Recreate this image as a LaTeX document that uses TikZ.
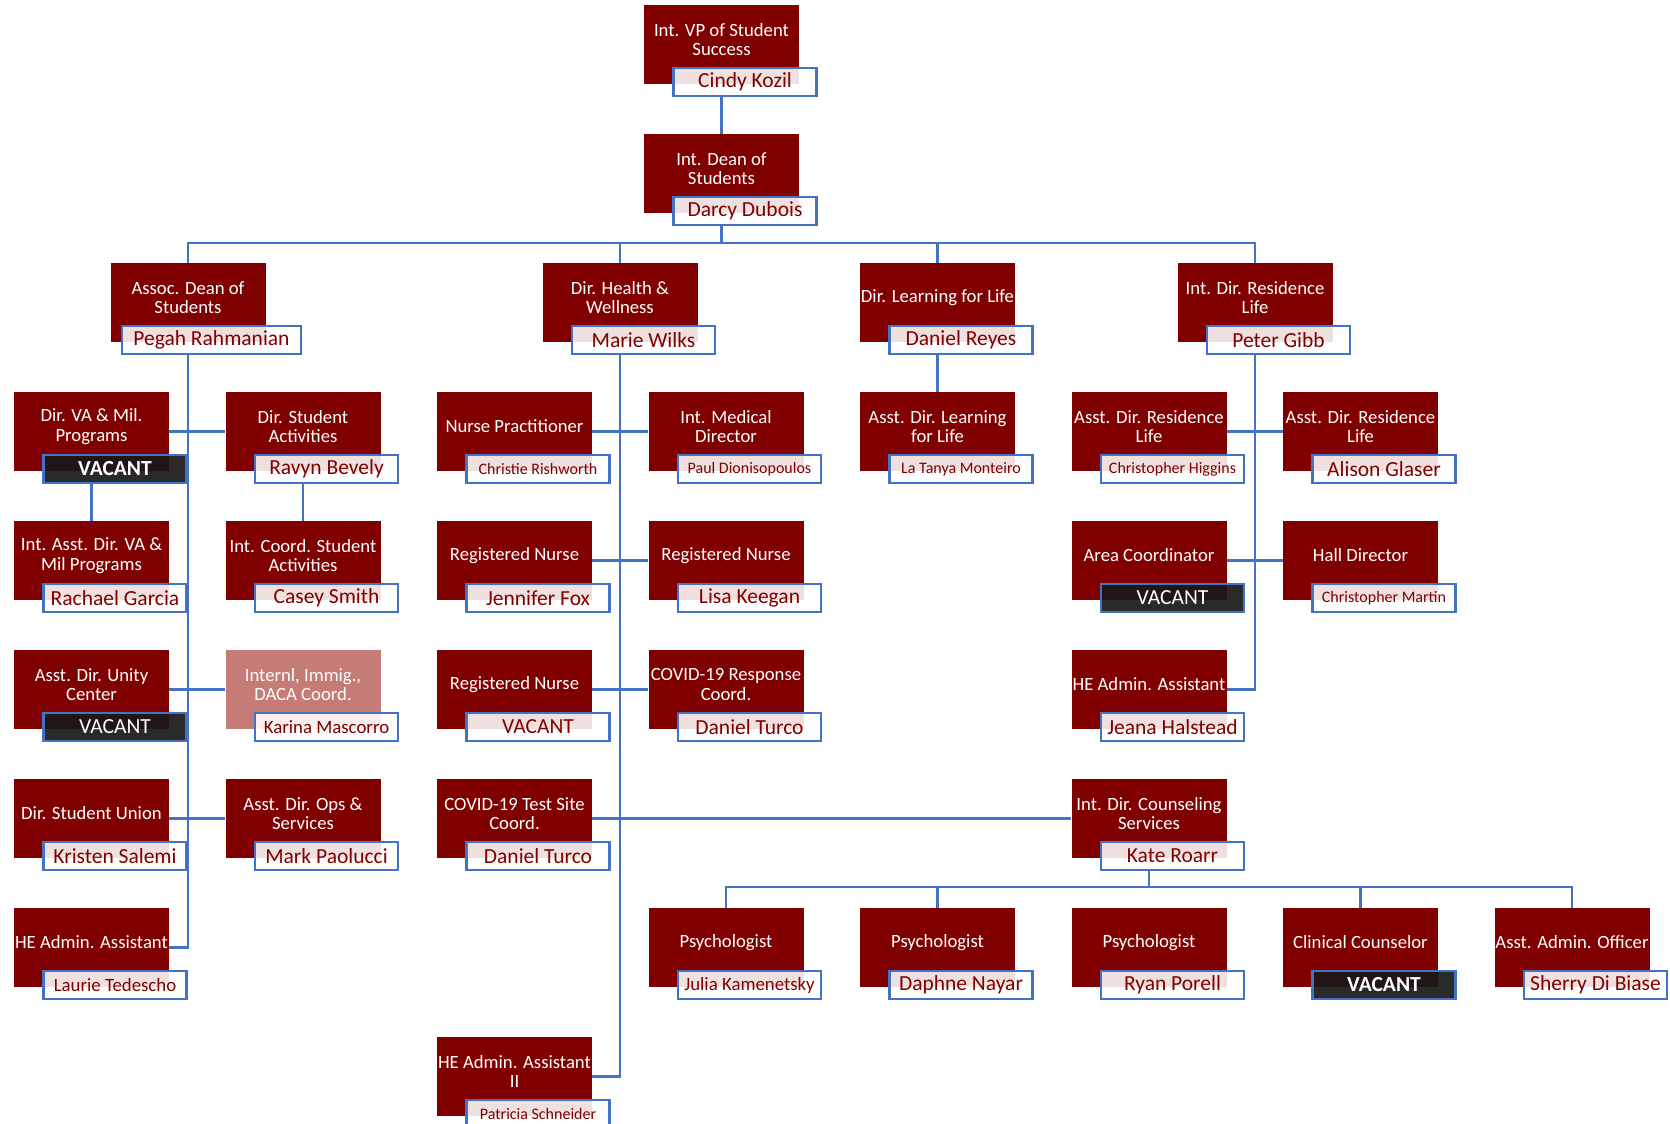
\documentclass[tikz,border=0pt]{standalone}
\usepackage{fontspec}
\setmainfont{Carlito}

\definecolor{bordeaux}{RGB}{128,0,0}
\definecolor{rosepale}{RGB}{197,123,118}
\definecolor{bleu}{RGB}{68,114,196}
\definecolor{noir}{RGB}{24,24,24}

\tikzset{
  boite/.style={fill=bordeaux, minimum width=155pt, minimum height=79pt, inner sep=0pt},
  titre/.style={text=white, align=center, font=\fontsize{18.7}{19.5}\selectfont},
  nom/.style={draw=bleu, line width=2.5pt, fill=white, fill opacity=.88, text opacity=1,
    text=bordeaux, minimum width=143pt, minimum height=28pt, inner xsep=3pt, inner ysep=0pt,
    font=\fontsize{21.5}{21.5}\selectfont},
  nommoyen/.style={nom, font=\fontsize{18.8}{18.8}\selectfont},
  nompetit/.style={nom, font=\fontsize{16}{16}\selectfont},
  vacant/.style={nom, fill=noir, fill opacity=.92, text=white},
  vacantgras/.style={vacant, font=\fontsize{21.5}{21.5}\selectfont\bfseries},
  lien/.style={draw=bleu, line width=2.7pt},
}

% un poste : boite rouge, titre, nom
\newcommand\poste[5][nom]{%
  \node[boite] (#2) at (#3) {};
  \node[titre] at ([yshift=5pt]#2.center) {#4};
  \node[#1] (#2n) at ([xshift=23.5pt,yshift=-37.5pt]#2.center) {#5};
}

\begin{document}
\begin{tikzpicture}[x=1pt, y=-1pt]

    \useasboundingbox (0,0) rectangle (1670,1124);

    % direction
    \poste{vp}{721.5,44.5}{Int. VP of Student\\Success}{Cindy Kozil}
    \poste{doyen}{721.5,173.5}{Int. Dean of\\Students}{Darcy Dubois}

    \poste[nom,minimum width=179pt]{assoc}{188,302.5}{Assoc. Dean of\\Students}{Pegah Rahmanian}
    \poste{sante}{620,302.5}{Dir. Health \&\\Wellness}{Marie Wilks}
    \poste{apprend}{937.5,302.5}{Dir. Learning for Life}{Daniel Reyes}
    \poste{resid}{1255,302.5}{Int. Dir. Residence\\Life}{Peter Gibb}

    % vie etudiante
    \poste[vacantgras]{va}{91.5,431.5}{Dir. VA \& Mil.\\Programs}{VACANT}
    \poste{activ}{303,431.5}{Dir. Student\\Activities}{Ravyn Bevely}
    \poste{asstva}{91.5,560.5}{Int. Asst. Dir. VA \&\\Mil Programs}{Rachael Garcia}
    \poste{coordactiv}{303,560.5}{Int. Coord. Student\\Activities}{Casey Smith}
    \poste[vacant]{unite}{91.5,689.5}{Asst. Dir. Unity\\Center}{VACANT}
    \begin{scope}[boite/.append style={fill=rosepale}]
      \poste[nommoyen]{daca}{303,689.5}{Internl, Immig.,\\DACA Coord.}{Karina Mascorro}
    \end{scope}
    \poste{union}{91.5,818.5}{Dir. Student Union}{Kristen Salemi}
    \poste{ops}{303,818.5}{Asst. Dir. Ops \&\\Services}{Mark Paolucci}
    \poste[nommoyen]{adminA}{91.5,947.5}{HE Admin. Assistant}{Laurie Tedescho}

    % sante
    \poste[nompetit]{np}{514.5,431.5}{Nurse Practitioner}{Christie Rishworth}
    \poste[nompetit]{med}{726,431.5}{Int. Medical\\Director}{Paul Dionisopoulos}
    \poste{inf1}{514.5,560.5}{Registered Nurse}{Jennifer Fox}
    \poste{inf2}{726,560.5}{Registered Nurse}{Lisa Keegan}
    \poste{inf3}{514.5,689.5}{Registered Nurse}{VACANT}
    \poste{covidrep}{726,689.5}{COVID-19 Response\\Coord.}{Daniel Turco}
    \poste{covidtest}{514.5,818.5}{COVID-19 Test Site\\Coord.}{Daniel Turco}
    \poste[nompetit]{adminC}{514.5,1076.5}{HE Admin. Assistant\\II}{Patricia Schneider}

    % apprentissage
    \poste[nompetit]{asstapp}{937.5,431.5}{Asst. Dir. Learning\\for Life}{La Tanya Monteiro}

    % residence
    \poste[nompetit]{higgins}{1149,431.5}{Asst. Dir. Residence\\Life}{Christopher Higgins}
    \poste{glaser}{1360.5,431.5}{Asst. Dir. Residence\\Life}{Alison Glaser}
    \poste[vacant]{area}{1149,560.5}{Area Coordinator}{VACANT}
    \poste[nompetit]{hall}{1360.5,560.5}{Hall Director}{Christopher Martin}
    \poste{adminF}{1149,689.5}{HE Admin. Assistant}{Jeana Halstead}

    % conseil
    \poste{conseil}{1149,818.5}{Int. Dir. Counseling\\Services}{Kate Roarr}
    \poste[nommoyen]{psy1}{726,947.5}{Psychologist}{Julia Kamenetsky}
    \poste{psy2}{937.5,947.5}{Psychologist}{Daphne Nayar}
    \poste{psy3}{1149,947.5}{Psychologist}{Ryan Porell}
    \poste[vacantgras]{clin}{1360.5,947.5}{Clinical Counselor}{VACANT}
    \poste{admoff}{1572,947.5}{Asst. Admin. Officer}{Sherry Di Biase}

    % liens du haut
    \coordinate (barre) at (0,243);
    \coordinate (barre2) at (0,887);
    \draw[lien] (vpn.south -| vp) -- (doyen.north);
    \draw[lien] (doyenn.south -| doyen) -- (doyen |- barre);
    \draw[lien] (assoc.north) -- (assoc |- barre) -- (resid |- barre) -- (resid.north);
    \draw[lien] (sante |- barre) -- (sante.north);
    \draw[lien] (apprend |- barre) -- (apprend.north);

    % liens vie etudiante
    \draw[lien] (assocn.south -| assoc) -- (assoc |- adminA) -- (adminA.east);
    \draw[lien] (va.east) -- (activ.west);
    \draw[lien] (unite.east) -- (daca.west);
    \draw[lien] (union.east) -- (ops.west);
    \draw[lien] (van.south -| va) -- (asstva.north);
    \draw[lien] (activn.south -| activ) -- (coordactiv.north);

    % liens sante
    \draw[lien] (santen.south -| sante) -- (sante |- adminC) -- (adminC.east);
    \draw[lien] (np.east) -- (med.west);
    \draw[lien] (inf1.east) -- (inf2.west);
    \draw[lien] (inf3.east) -- (covidrep.west);
    \draw[lien] (covidtest.east) -- (conseil.west);

    % liens apprentissage et residence
    \draw[lien] (apprendn.south -| apprend) -- (asstapp.north);
    \draw[lien] (residn.south -| resid) -- (resid |- adminF) -- (adminF.east);
    \draw[lien] (higgins.east) -- (glaser.west);
    \draw[lien] (area.east) -- (hall.west);

    % liens conseil
    \draw[lien] (conseiln.south -| conseil) -- (conseil |- barre2);
    \draw[lien] (psy1.north) -- (psy1 |- barre2) -- (admoff |- barre2) -- (admoff.north);
    \draw[lien] (psy2 |- barre2) -- (psy2.north);
    \draw[lien] (clin |- barre2) -- (clin.north);

\end{tikzpicture}
\end{document}
